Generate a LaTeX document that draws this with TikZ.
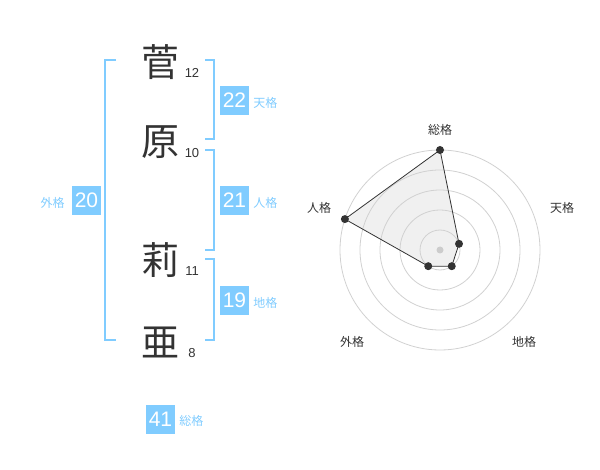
\documentclass[tikz,border=0pt]{standalone}
\usepackage{fontspec}
\setmainfont{Liberation Sans}
\newfontfamily\jp{Noto Sans CJK JP}
\usetikzlibrary{positioning}
\definecolor{kakublue}{HTML}{80CCFF}
\definecolor{inkgray}{HTML}{333333}

\begin{document}
\begin{tikzpicture}
  [x=1pt, y=-1pt,
   kanji/.style={font=\jp\fontsize{38}{38}\selectfont, text=inkgray, inner sep=0pt},
   strokes/.style={font=\fontsize{13}{13}\selectfont, text=inkgray, inner sep=0pt},
   kakubox/.style={fill=kakublue, text=white, minimum size=29pt, inner sep=0pt, font=\fontsize{21}{21}\selectfont},
   kakulabel/.style={font=\jp\fontsize{12}{12}\selectfont, text=kakublue, inner sep=0pt, yshift=-2pt},
   bracket/.style={draw=kakublue, line width=2pt},
   axislabel/.style={font=\jp\fontsize{12}{12}\selectfont, text=inkgray, inner sep=0pt}]
  \useasboundingbox (0,0) rectangle (600,470);
  % name
  \foreach \k/\c/\y/\n in {a/菅/62/12, b/原/142/10, c/莉/260/11, d/亜/342/8} {
      \node [kanji] (k\k) at (160,\y) {\c};
      \node [strokes] (s\k) at (192,\y+11) {\n};
  }
  % brackets
  \draw [bracket] (116,60) -- (105,60) -- (105,340) -- (116,340);
  \draw [bracket] (205,60) -- (214,60) -- (214,139) -- (205,139);
  \draw [bracket] (205,150) -- (214,150) -- (214,250) -- (205,250);
  \draw [bracket] (205,259) -- (214,259) -- (214,340) -- (205,340);
  % kaku
  \node [kakubox] (ten) at (234.5,100.5) {22};
  \node [kakulabel, right=4pt of ten] (tenl) {天格};
  \node [kakubox] (jin) at (234.5,200.5) {21};
  \node [kakulabel, right=4pt of jin] (jinl) {人格};
  \node [kakubox] (chi) at (234.5,300.5) {19};
  \node [kakulabel, right=4pt of chi] (chil) {地格};
  \node [kakubox] (gai) at (86.5,200.5) {20};
  \node [kakulabel, left=7pt of gai] (gail) {外格};
  \node [kakubox] (sou) at (160.5,419) {41};
  \node [kakulabel, right=4pt of sou] (soul) {総格};
  % radar
  \coordinate (o) at (440,250);
  \foreach \v/\a/\r in {sou/90/100, ten/18/20, chi/-54/20, gai/-126/20, jin/162/100} {
      \path (o) ++(\a:\r pt) coordinate (v\v);
  }
  \fill [black!6] (vsou) -- (vten) -- (vchi) -- (vgai) -- (vjin) -- cycle;
  \foreach \r in {20,40,...,100} {
      \draw [black!18, line width=0.8pt] (o) circle (\r pt);
  }
  \fill [black!20] (o) circle (3.5pt);
  \draw [inkgray, line width=0.8pt] (vsou) -- (vten) -- (vchi) -- (vgai) -- (vjin) -- cycle;
  \foreach \v in {sou,ten,chi,gai,jin} {
      \fill [inkgray] (v\v) circle (4pt);
  }
  \node [axislabel] (asou) at (440,130) {総格};
  \node [axislabel] (aten) at (562,208) {天格};
  \node [axislabel] (achi) at (524,342) {地格};
  \node [axislabel] (agai) at (352,342) {外格};
  \node [axislabel] (ajin) at (319,208) {人格};
\end{tikzpicture}
\end{document}
